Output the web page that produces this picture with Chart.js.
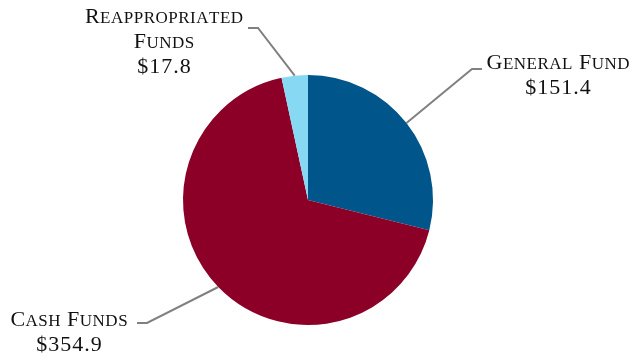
<!DOCTYPE html>
<html lang="en">
<head>
  <meta charset="UTF-8" />
  <title>Fund Sources</title>
  <script src="https://cdn.jsdelivr.net/npm/chart.js"></script>
  <style>
    html, body { margin: 0; padding: 0; background: #fff; }
    #wrap { width: 631px; height: 356px; }
  </style>
</head>
<body>
  <div id="wrap"><canvas id="fundChart" width="631" height="356"></canvas></div>

  <script>
    // fund sources, millions of dollars
    const categories = ['General Fund', 'Cash Funds', 'Reappropriated Funds'];
    const amounts = [151.4, 354.9, 17.8];
    const colors = ['#00558a', '#8c0028', '#87d9f3'];

    // label lines per slice (name lines; the amount goes underneath)
    const labelLines = [
      ['General Fund'],
      ['Cash Funds'],
      ['Reappropriated', 'Funds']
    ];

    // where each callout sits: elbow of the leader line, end of its short run, text centre and first baseline
    const callouts = [
      { elbow: [472, 69], end: [482, 69], textX: 558, baseY: 69 },
      { elbow: [147, 323], end: [137, 323], textX: 69, baseY: 326 },
      { elbow: [258, 28], end: [248, 28], textX: 164, baseY: 23 }
    ];

    const FONT_FAMILY = '"Liberation Serif", "DejaVu Serif", serif';
    const FONT_SIZE = 22;
    const SMALL = 0.76;
    const LINE_H = 25;

    // glyph runs: small caps turns lowercase into smaller capitals
    function glyphs(text, smallCaps) {
      return [...text].map(ch => {
        const big = !smallCaps || ch === ch.toUpperCase();
        return {
          ch: smallCaps ? ch.toUpperCase() : ch,
          font: (big ? FONT_SIZE : Math.round(FONT_SIZE * SMALL)) + 'px ' + FONT_FAMILY
        };
      });
    }

    function drawSpaced(ctx, text, cx, y, spacing, smallCaps) {
      const gs = glyphs(text, smallCaps);
      let w = 0;
      gs.forEach(g => { ctx.font = g.font; g.w = ctx.measureText(g.ch).width; w += g.w; });
      w += spacing * (gs.length - 1);
      let x = cx - w / 2;
      gs.forEach(g => {
        ctx.font = g.font;
        ctx.fillText(g.ch, x, y);
        x += g.w + spacing;
      });
    }

    const calloutPlugin = {
      id: 'callouts',
      afterDatasetsDraw(chart) {
        const ctx = chart.ctx;
        const meta = chart.getDatasetMeta(0);
        ctx.save();
        meta.data.forEach((arc, i) => {
          const c = callouts[i];
          const mid = (arc.startAngle + arc.endAngle) / 2;
          const ax = arc.x + Math.cos(mid) * arc.outerRadius;
          const ay = arc.y + Math.sin(mid) * arc.outerRadius;

          ctx.strokeStyle = '#808080';
          ctx.lineWidth = 2;
          ctx.beginPath();
          ctx.moveTo(ax, ay);
          ctx.lineTo(c.elbow[0], c.elbow[1]);
          ctx.lineTo(c.end[0], c.end[1]);
          ctx.stroke();

          ctx.fillStyle = '#111';
          ctx.textAlign = 'left';
          ctx.textBaseline = 'alphabetic';
          const lines = labelLines[i];
          lines.forEach((ln, k) => drawSpaced(ctx, ln, c.textX, c.baseY + k * LINE_H, 0.5, true));

          const money = '$' + amounts[i].toFixed(1);
          drawSpaced(ctx, money, c.textX, c.baseY + lines.length * LINE_H, 1, false);
        });
        ctx.restore();
      }
    };

    new Chart(document.getElementById('fundChart'), {
      type: 'pie',
      data: {
        labels: categories,
        datasets: [{
          data: amounts,
          backgroundColor: colors,
          borderWidth: 0
        }]
      },
      options: {
        responsive: false,
        animation: false,
        layout: { padding: { left: 183, right: 198, top: 75, bottom: 31 } },
        plugins: {
          legend: { display: false },
          tooltip: { enabled: false }
        }
      },
      plugins: [calloutPlugin]
    });
  </script>
</body>
</html>
